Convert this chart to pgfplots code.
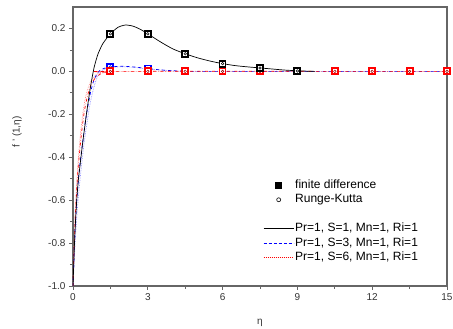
\documentclass[border=0pt]{standalone}
\usepackage{fontspec}
\setmainfont{Liberation Sans}
\usepackage{pgfplots}
\pgfplotsset{compat=1.18}
\begin{document}
\begin{tikzpicture}
\begin{axis}[name=ax, scale only axis, width=374pt, height=279pt,
  xmin=0, xmax=15, ymin=-1, ymax=0.3,
  xtick={0,3,6,9,12,15}, ytick={-1,-0.8,-0.6,-0.4,-0.2,0,0.2},
  minor x tick num=1, minor y tick num=1,
  tick align=outside, xtick pos=left, ytick pos=left,
  major tick length=4pt, minor tick length=3pt,
  yticklabel style={/pgf/number format/.cd, fixed, fixed zerofill, precision=1},
  /pgf/number format/assume math mode=true,
  ticklabel style={font=\fontsize{10}{12}\selectfont, text=black!80},
  axis line style={black!60, line width=1.2pt},
  every tick/.style={black!60, line width=0.8pt},
  xlabel={η}, ylabel={f ' (1,η)},
  label style={font=\fontsize{10}{12}\selectfont, text=black!80},
  xlabel style={at={(axis description cs:0.5,0)}, anchor=center, yshift=-37pt},
  ylabel style={at={(axis description cs:0,0.552)}, anchor=center, yshift=56pt},
  legend style={at={(axis description cs:0.50,0.395)}, anchor=north west, draw=none, fill=none,
    font=\fontsize{12}{14}\selectfont,
    nodes={text height=9.5pt, text depth=3pt, inner sep=1pt}},
  legend cell align=left,
  legend image code/.code={\draw[#1] (0pt,0pt) -- (30pt,0pt);},
]
\addlegendimage{legend image code/.code={\fill[black] (12pt,-3pt) rectangle (18pt,3pt);}}
\addlegendentry{finite difference}
\addlegendimage{legend image code/.code={\draw[black, line width=0.6pt] (15pt,0pt) circle (2pt);}}
\addlegendentry{Runge-Kutta}
\addlegendimage{empty legend}
\addlegendentry{}
\addlegendimage{draw=black, line width=0.8pt}
\addlegendentry{Pr=1, S=1, Mn=1, Ri=1}
\addlegendimage{draw=blue, dash pattern=on 3pt off 2pt, line width=1pt}
\addlegendentry{Pr=1, S=3, Mn=1, Ri=1}
\addlegendimage{draw=red, dash pattern=on 1pt off 1pt, line width=1pt}
\addlegendentry{Pr=1, S=6, Mn=1, Ri=1}

% faint companion curves
\addplot[forget plot, blue!45, densely dotted, line width=0.7pt, smooth, tension=0.4] coordinates {
(0,-1)(0.05,-0.88)(0.1,-0.77)(0.17,-0.65)(0.25,-0.54)(0.35,-0.43)(0.45,-0.33)(0.56,-0.24)(0.67,-0.16)(0.78,-0.1)(0.9,-0.05)(1.0,-0.02)(1.15,0.003)(1.35,0.014)(1.5,0.018)(2,0.022)(2.5,0.018)(3,0.011)(4,0.003)(5,0)(15,0)};
\addplot[forget plot, red!45, densely dotted, line width=0.7pt, smooth, tension=0.4] coordinates {
(0,-1)(0.02,-0.9)(0.05,-0.78)(0.08,-0.68)(0.12,-0.58)(0.17,-0.48)(0.23,-0.38)(0.3,-0.29)(0.38,-0.21)(0.47,-0.14)(0.57,-0.09)(0.7,-0.05)(0.85,-0.025)(1.0,-0.01)(1.3,-0.002)(1.6,0)(15,0)};

% main curves
\addplot[forget plot, blue, dashed, line width=0.7pt, smooth, tension=0.4] coordinates {
(0,-1)(0.03,-0.9)(0.06,-0.8)(0.1,-0.7)(0.15,-0.6)(0.22,-0.5)(0.3,-0.41)(0.4,-0.32)(0.5,-0.23)(0.6,-0.16)(0.7,-0.1)(0.8,-0.055)(0.9,-0.025)(1.0,-0.005)(1.1,0.007)(1.3,0.016)(1.5,0.021)(2.0,0.024)(2.5,0.02)(3.0,0.013)(3.5,0.007)(4.0,0.003)(4.5,0.001)(5,0)(15,0)};
\addplot[forget plot, red, dash dot, line width=0.7pt, smooth, tension=0.4] coordinates {
(0,-1)(0.03,-0.88)(0.06,-0.77)(0.1,-0.66)(0.15,-0.55)(0.2,-0.46)(0.27,-0.37)(0.35,-0.28)(0.45,-0.19)(0.55,-0.13)(0.65,-0.085)(0.75,-0.055)(0.9,-0.03)(1.1,-0.012)(1.3,-0.004)(1.5,0)(15,0)};
\addplot[forget plot, black, line width=0.7pt, smooth, tension=0.4] coordinates {
(0,-1)(0.03,-0.9)(0.06,-0.8)(0.1,-0.7)(0.15,-0.6)(0.22,-0.5)(0.3,-0.42)(0.38,-0.34)(0.47,-0.26)(0.55,-0.19)(0.65,-0.11)(0.75,-0.04)(0.85,0.02)(1.0,0.08)(1.2,0.13)(1.5,0.175)(1.8,0.205)(2.1,0.216)(2.4,0.211)(2.7,0.196)(3.0,0.175)(3.5,0.138)(4.0,0.105)(4.5,0.082)(5.0,0.063)(5.5,0.048)(6.0,0.036)(6.5,0.027)(7.0,0.021)(7.5,0.016)(8.0,0.011)(8.5,0.006)(9.0,0.003)(9.4,0.001)(9.7,0)};

% finite difference (squares) and Runge-Kutta (circles)
\addplot[forget plot, only marks, mark=square*, mark size=3pt, mark options={draw=blue, fill=white, line width=1.8pt}] coordinates {(1.5,0.021)(3,0.013)};
\addplot[forget plot, only marks, mark=*, mark size=1.3pt, mark options={draw=blue!70!black, fill=white, line width=0.5pt}] coordinates {(1.5,0.021)(3,0.013)};
\addplot[forget plot, only marks, mark=square*, mark size=3pt, mark options={draw=red, fill=white, line width=1.8pt}] coordinates {(1.5,0)(3,0)(4.5,0)(6,0)(7.5,0)(9,0)(10.5,0)(12,0)(13.5,0)(15,0)};
\addplot[forget plot, only marks, mark=*, mark size=1.3pt, mark options={draw=red!60!black, fill=white, line width=0.5pt}] coordinates {(1.5,0)(3,0)(4.5,0)(6,0)(7.5,0)(9,0)(10.5,0)(12,0)(13.5,0)(15,0)};
\addplot[forget plot, only marks, mark=square*, mark size=3pt, mark options={draw=black, fill=white, line width=1.8pt}] coordinates {(1.5,0.175)(3,0.175)(4.5,0.082)(6,0.036)(7.5,0.016)(9,0.002)};
\addplot[forget plot, only marks, mark=*, mark size=1.3pt, mark options={draw=black, fill=white, line width=0.5pt}] coordinates {(1.5,0.175)(3,0.175)(4.5,0.082)(6,0.036)(7.5,0.016)(9,0.002)};
\end{axis}
\pgfresetboundingbox
\path[use as bounding box] ([xshift=-73pt,yshift=-43pt]ax.south west) rectangle ([xshift=6pt,yshift=7pt]ax.north east);
\end{tikzpicture}
\end{document}
